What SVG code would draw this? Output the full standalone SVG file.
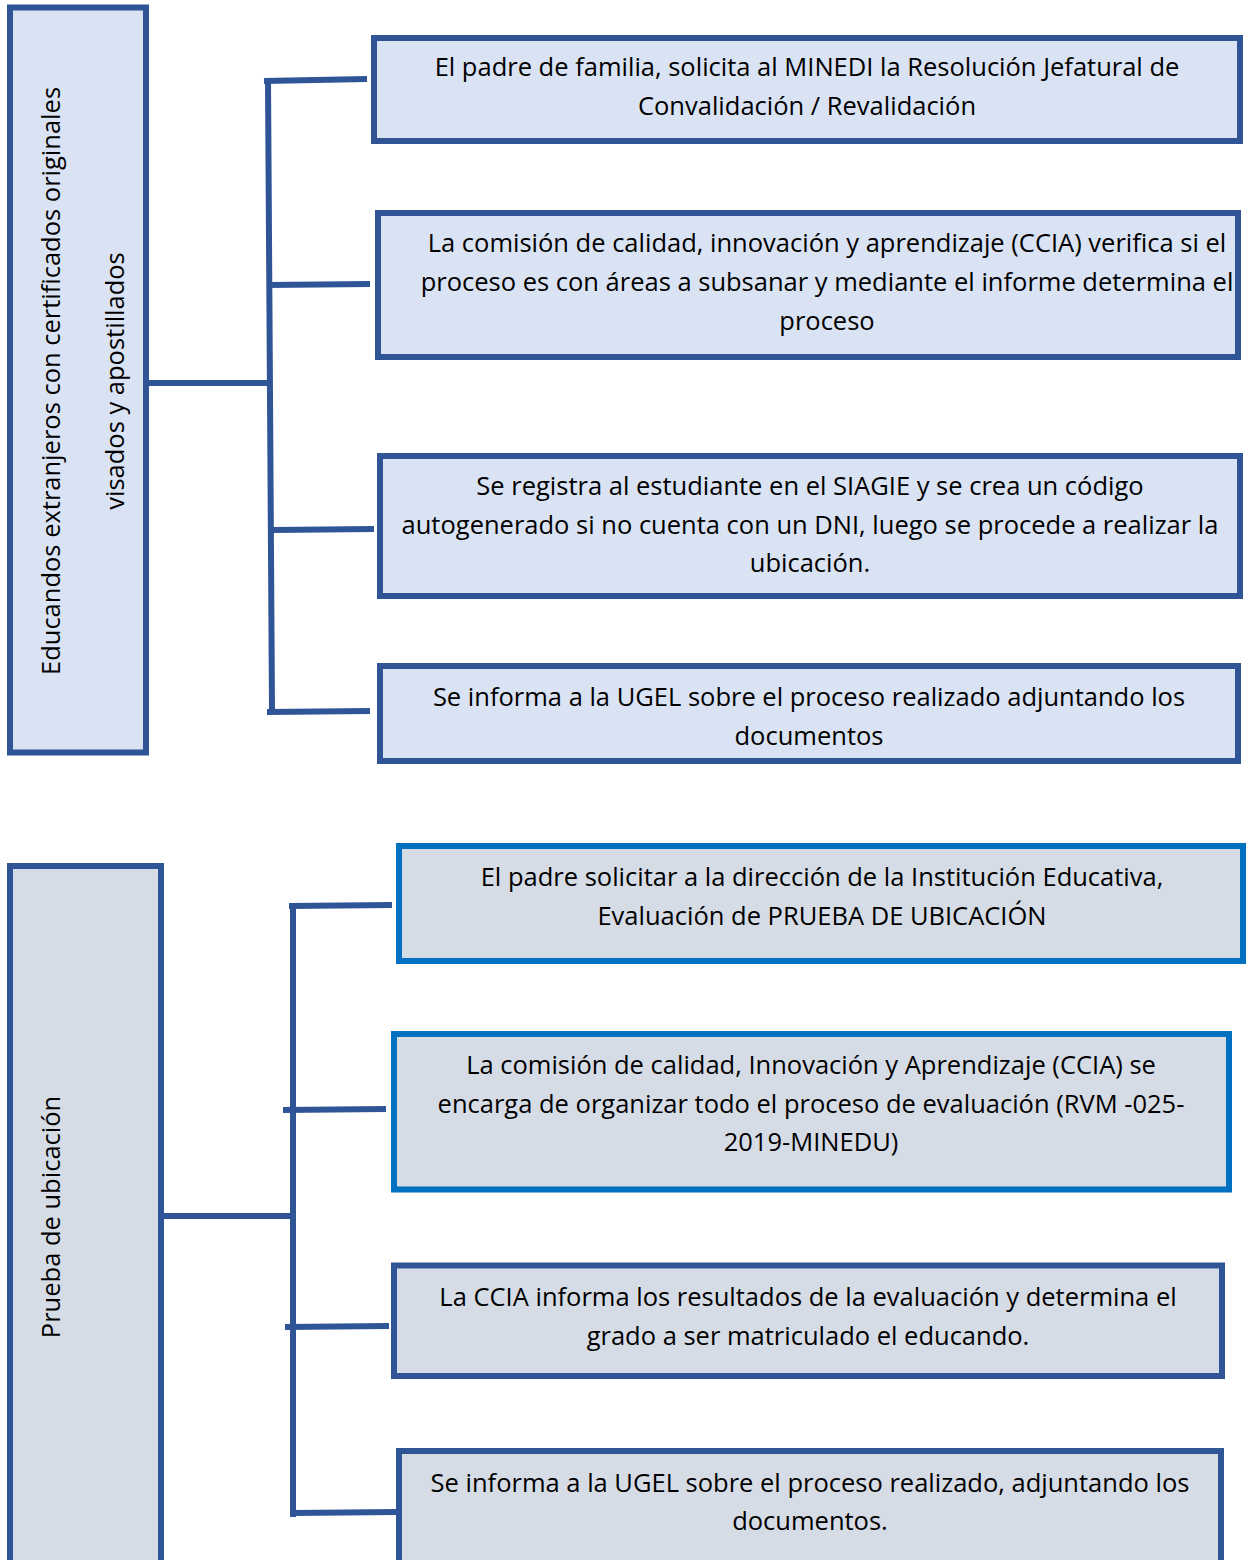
<svg xmlns="http://www.w3.org/2000/svg" width="1246" height="1560" viewBox="0 0 1246 1560">
<style>
.n1{fill:#DAE3F3;stroke:#2F5597;stroke-width:6}
.n2{fill:#D6DCE5;stroke:#2F5597;stroke-width:6}
.n3{fill:#D6DCE5;stroke:#0070C0;stroke-width:6}
.c{fill:none;stroke:#2F5597;stroke-width:6}
text{font-family:"Open Sans","Noto Sans","DejaVu Sans",sans-serif;font-size:25.5px;fill:#000;text-anchor:middle}
</style>
<rect width="1246" height="1560" fill="#fff"/>
<g id="connectors">
<path class="c" d="M149 383 H272"/>
<path class="c" d="M268 80 L272 710"/>
<path class="c" d="M264 81 L367 79"/>
<path class="c" d="M268 285 L370 284"/>
<path class="c" d="M272 530 L374 529"/>
<path class="c" d="M267 712 L370 711"/>
<path class="c" d="M163 1216 H296"/>
<path class="c" d="M293 904 V1517"/>
<path class="c" d="M289 906 L392 905"/>
<path class="c" d="M283 1110 L386 1109"/>
<path class="c" d="M285 1327 L389 1326"/>
<path class="c" d="M293 1513 L397 1512"/>
</g>
<g id="left1">
<rect class="n1" x="10" y="7.5" width="136" height="745"/>
<text transform="translate(60,381) rotate(-90)">Educandos extranjeros con certificados originales</text>
<text transform="translate(124,381) rotate(-90)">visados y apostillados</text>
</g>
<g id="box1">
<rect class="n1" x="374" y="38" width="866" height="103"/>
<text x="807" y="76">El padre de familia, solicita al MINEDI la Resolución Jefatural de</text>
<text x="807" y="115">Convalidación / Revalidación</text>
</g>
<g id="box2">
<rect class="n1" x="378" y="213" width="860" height="144"/>
<text x="827" y="252">La comisión de calidad, innovación y aprendizaje (CCIA) verifica si el</text>
<text x="827" y="291">proceso es con áreas a subsanar y mediante el informe determina el</text>
<text x="827" y="330">proceso</text>
</g>
<g id="box3">
<rect class="n1" x="380" y="456" width="860" height="140"/>
<text x="810" y="495">Se registra al estudiante en el SIAGIE y se crea un código</text>
<text x="810" y="534">autogenerado si no cuenta con un DNI, luego se procede a realizar la</text>
<text x="810" y="572">ubicación.</text>
</g>
<g id="box4">
<rect class="n1" x="380" y="666" width="858" height="95"/>
<text x="809" y="706">Se informa a la UGEL sobre el proceso realizado adjuntando los</text>
<text x="809" y="745">documentos</text>
</g>
<g id="left2">
<rect class="n2" x="10" y="866" width="151" height="710"/>
<text transform="translate(60,1217) rotate(-90)">Prueba de ubicación</text>
</g>
<g id="box5">
<rect class="n3" x="399" y="846" width="844" height="115"/>
<text x="822" y="886">El padre solicitar a la dirección de la Institución Educativa,</text>
<text x="822" y="925">Evaluación de PRUEBA DE UBICACIÓN</text>
</g>
<g id="box6">
<rect class="n3" x="394" y="1034" width="835" height="155.5"/>
<text x="811" y="1074">La comisión de calidad, Innovación y Aprendizaje (CCIA) se</text>
<text x="811" y="1113">encarga de organizar todo el proceso de evaluación (RVM -025-</text>
<text x="811" y="1151">2019-MINEDU)</text>
</g>
<g id="box7">
<rect class="n2" x="394" y="1265.5" width="828" height="110.5"/>
<text x="808" y="1306">La CCIA informa los resultados de la evaluación y determina el</text>
<text x="808" y="1345">grado a ser matriculado el educando.</text>
</g>
<g id="box8">
<rect class="n2" x="399" y="1451" width="822" height="125"/>
<text x="810" y="1492">Se informa a la UGEL sobre el proceso realizado, adjuntando los</text>
<text x="810" y="1530">documentos.</text>
</g>
</svg>
